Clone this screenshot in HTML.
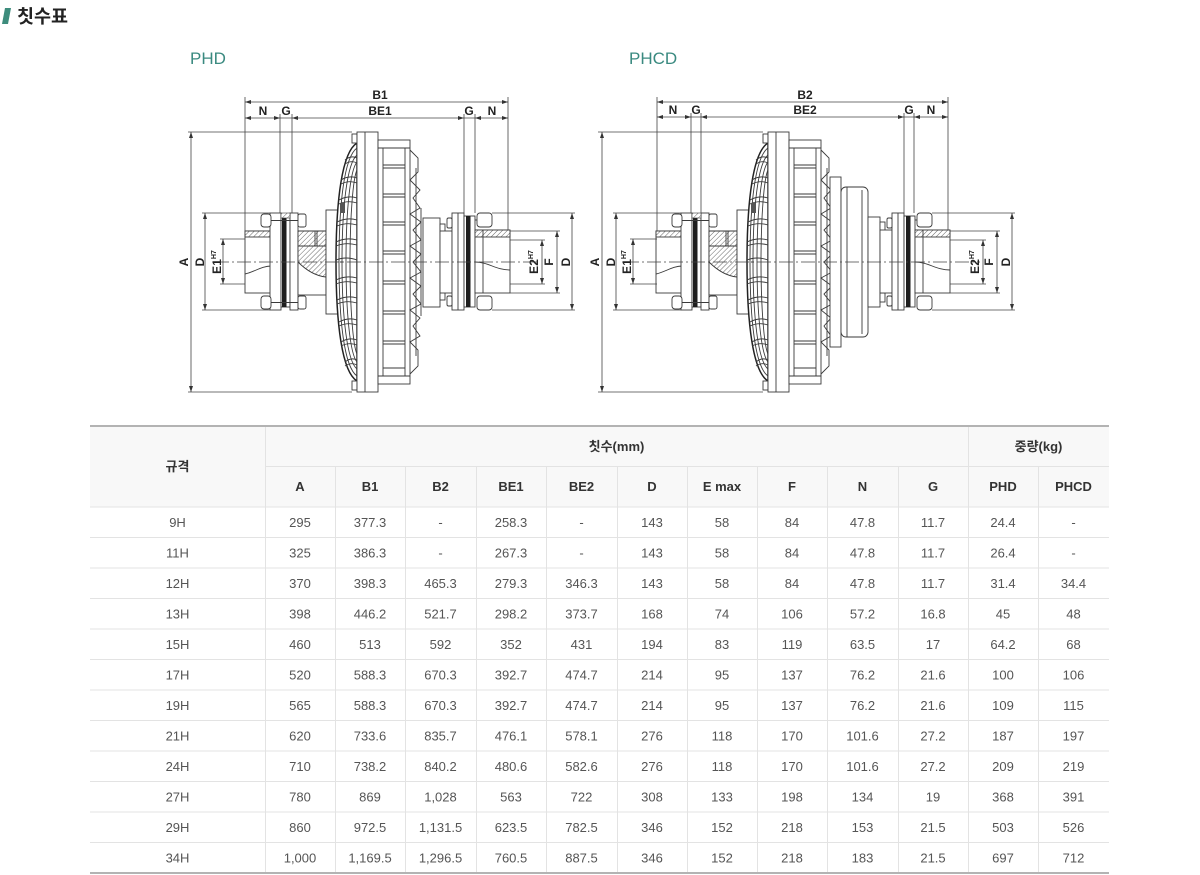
<!DOCTYPE html>
<html><head><meta charset="utf-8"><style>
html,body{margin:0;padding:0;background:#fff;}
svg{display:block;}
.d{fill:#fff;stroke:#3a3a3a;stroke-width:0.9;}
.n{fill:none;stroke:#3a3a3a;stroke-width:0.9;}
.dim{stroke:#444;stroke-width:0.8;fill:none;}
.lbl{font-family:"Liberation Sans Narrow","Liberation Sans",sans-serif;font-weight:bold;font-size:12px;fill:#222;text-anchor:middle;}
.t{font-family:"Liberation Sans","Noto Sans CJK KR",sans-serif;font-size:13px;fill:#555;text-anchor:middle;}
.th{font-family:"Liberation Sans","Noto Sans CJK KR",sans-serif;font-size:13px;fill:#333;font-weight:bold;text-anchor:middle;}
.tl{stroke:#e3e3e3;stroke-width:1;}
</style></head><body>
<svg width="1200" height="875" viewBox="0 0 1200 875" xmlns="http://www.w3.org/2000/svg">
<defs>
<pattern id="h" width="3.5" height="3.5" patternUnits="userSpaceOnUse" patternTransform="rotate(45)"><rect width="3.5" height="3.5" fill="#fff"/><line x1="0" y1="0" x2="0" y2="3.5" stroke="#555" stroke-width="0.9"/></pattern>
</defs>

<!-- Header -->
<polygon points="5,8 11,8 8,24 2,24" fill="#3d8c7c"/>
<text x="17" y="23" font-family="'Noto Sans CJK KR','Liberation Sans',sans-serif" font-size="18.5" font-weight="bold" fill="#222">칫수표</text>

<text x="190" y="64" font-family="'Liberation Sans',sans-serif" font-size="17" fill="#3a8a80">PHD</text>
<text x="629" y="64" font-family="'Liberation Sans',sans-serif" font-size="17" fill="#3a8a80">PHCD</text>

<!-- ================= PHD drawing ================= -->
<g id="leftcpl">
  <rect class="d" x="245" y="231" width="26" height="62"/>
  <rect x="245" y="231" width="26" height="6" fill="url(#h)" stroke="#3a3a3a" stroke-width="0.9"/>
  <path class="n" d="M245,274 C254,272 262,266 271,266"/>
  <rect class="d" x="270" y="213" width="11" height="97"/>
  <rect class="d" x="281" y="216" width="9" height="91"/>
  <rect x="282" y="216" width="4.5" height="91" fill="#1e1e1e"/>
  <rect class="d" x="290" y="213" width="8" height="97"/>
  <rect x="281" y="213" width="9" height="5" fill="url(#h)" stroke="#3a3a3a" stroke-width="0.6"/>
  <rect class="d" x="261" y="214" width="10" height="13" rx="3"/>
  <rect class="d" x="298" y="214" width="8" height="13" rx="2"/>
  <line class="n" x1="271" y1="220.5" x2="298" y2="220.5"/>
  <rect class="d" x="261" y="296" width="10" height="13" rx="3"/>
  <rect class="d" x="298" y="296" width="8" height="13" rx="2"/>
  <line class="n" x1="271" y1="302.5" x2="298" y2="302.5"/>
  <rect class="d" x="298" y="231" width="28" height="64"/>
  <path d="M298,231 L326,231 L326,277 C316,276 306,270 298,262 Z" fill="url(#h)" stroke="#3a3a3a" stroke-width="0.9"/>
  <line class="n" x1="298" y1="246" x2="326" y2="246"/>
  <line class="n" x1="315" y1="231" x2="315" y2="246"/>
  <line class="n" x1="317" y1="231" x2="317" y2="246"/>
  <rect class="d" x="326" y="210" width="12" height="104"/>
</g>

<g id="mainunit">
  <path d="M357,143 C342,152 336,200 336,262 C336,324 342,372 357,381 Z" fill="#fff" stroke="#222" stroke-width="1.5"/>
  <path class="n" stroke-width="1.1" d="M357,148 C344,157 339,205 339,262 C339,319 344,367 357,376"/>
  <path class="n" stroke-width="1.1" d="M357,155 C347,163 342,208 342,262 C342,316 347,361 357,369"/>
  <path class="n" stroke-width="1.1" d="M357,162 C350,170 346,212 346,262 C346,312 350,354 357,362"/>
  <path class="n" stroke-width="1" d="M357,170 C353,178 350,217 350,262 C350,307 353,346 357,354"/>
  <g class="n" stroke-width="1.2">
    <path d="M345,160 q6,-5 12,-2 M345,164 q6,-4 12,-1"/>
    <path d="M341,180 q8,-5 16,-2 M341,184 q8,-4 16,-1"/>
    <path d="M339,200 q9,-5 18,-2 M339,204 q9,-4 18,-1"/>
    <path d="M337,222 q10,-5 20,-2 M337,226 q10,-4 20,-1"/>
    <path d="M336,242 q10,-5 21,-2 M336,246 q10,-4 21,-1"/>
    <path d="M336,260 q10,-4 21,0 M340,262 l3,0"/>
    <path d="M336,280 q10,-5 21,-2 M336,284 q10,-4 21,-1"/>
    <path d="M337,300 q10,-5 20,-2 M337,304 q10,-4 20,-1"/>
    <path d="M339,322 q9,-5 18,-2 M339,326 q9,-4 18,-1"/>
    <path d="M341,342 q8,-5 16,-2 M341,346 q8,-4 16,-1"/>
    <path d="M345,362 q6,-5 12,-2 M345,366 q6,-4 12,-1"/>
  </g>
  <rect x="340" y="203" width="5" height="10" fill="#555"/>
  <rect class="d" x="352" y="134" width="5" height="9"/>
  <rect class="d" x="352" y="381" width="5" height="9"/>
  <rect class="d" x="357" y="132" width="21" height="260"/>
  <line class="n" x1="365" y1="132" x2="365" y2="392"/>
  <rect class="d" x="378" y="140" width="32" height="244"/>
  <line class="n" x1="383" y1="148" x2="383" y2="376"/>
  <line class="n" x1="405" y1="148" x2="405" y2="376"/>
  <line class="n" x1="378" y1="148" x2="410" y2="148"/>
  <line class="n" x1="378" y1="376" x2="410" y2="376"/>
  <g class="n" stroke-width="1.2">
    <path d="M383,165 H405 M383,168 H405"/>
    <path d="M383,194 H405 M383,197 H405"/>
    <path d="M383,222 H405 M383,225 H405"/>
    <path d="M383,251 H405 M383,254 H405"/>
    <path d="M383,281 H405 M383,284 H405"/>
    <path d="M383,311 H405 M383,314 H405"/>
    <path d="M383,341 H405 M383,344 H405"/>
    <path d="M383,368 H405"/>
  </g>
  <path class="n" stroke-width="1" d="M410,150 L418,158 L418,172 L410,180 L420,190 L413,198 L420,208 L410,214 L421,222 L413,230 L421,240 L410,246 L421,254 L413,262 L421,272 L410,278 L421,286 L413,294 L421,304 L410,310 L420,318 L413,326 L420,336 L410,342 L418,350 L418,366 L410,374"/>
  <line class="n" x1="416" y1="168" x2="416" y2="356"/>
</g>

<line class="n" x1="421" y1="208" x2="421" y2="316"/>
<rect class="d" x="423" y="218" width="17" height="89"/>
<rect class="d" x="440" y="224" width="5" height="8"/>
<rect class="d" x="440" y="292" width="5" height="8"/>
<rect class="d" x="440" y="231" width="12" height="62"/>

<g id="rightcpl">
  <rect class="d" x="452" y="213" width="12" height="97"/>
  <line class="n" x1="458" y1="213" x2="458" y2="310"/>
  <rect class="d" x="464" y="216" width="11" height="91"/>
  <rect x="466" y="216" width="4.5" height="91" fill="#1e1e1e"/>
  <rect class="d" x="447" y="218" width="5" height="10" rx="1.5"/>
  <rect class="d" x="447" y="296" width="5" height="10" rx="1.5"/>
  <rect class="d" x="475" y="230" width="35" height="63"/>
  <rect x="475" y="230" width="35" height="7" fill="url(#h)" stroke="#3a3a3a" stroke-width="0.9"/>
  <path class="n" d="M475,262 C488,262 496,270 510,270"/>
  <line class="n" x1="483" y1="230" x2="483" y2="293"/>
  <rect class="d" x="477" y="213" width="15" height="14" rx="3"/>
  <rect class="d" x="477" y="296" width="15" height="14" rx="3"/>
  <line class="n" x1="475" y1="220" x2="477" y2="220"/>
</g>

<g class="dim">
  <line x1="245" y1="102" x2="508" y2="102"/>
  <line x1="245" y1="118" x2="508" y2="118"/>
  <line x1="245" y1="97" x2="245" y2="231"/>
  <line x1="508" y1="97" x2="508" y2="230"/>
  <line x1="280" y1="114" x2="280" y2="213"/>
  <line x1="292" y1="114" x2="292" y2="213"/>
  <line x1="464" y1="114" x2="464" y2="213"/>
  <line x1="475" y1="114" x2="475" y2="213"/>
  <line x1="188" y1="132" x2="352" y2="132"/>
  <line x1="188" y1="392" x2="352" y2="392"/>
  <line x1="191" y1="132" x2="191" y2="392"/>
  <line x1="202" y1="213" x2="270" y2="213"/>
  <line x1="202" y1="310" x2="270" y2="310"/>
  <line x1="205" y1="213" x2="205" y2="310"/>
  <line x1="220" y1="239" x2="245" y2="239"/>
  <line x1="220" y1="284" x2="245" y2="284"/>
  <line x1="223" y1="239" x2="223" y2="284"/>
  <line x1="492" y1="213" x2="575" y2="213"/>
  <line x1="492" y1="310" x2="575" y2="310"/>
  <line x1="572" y1="213" x2="572" y2="310"/>
  <line x1="510" y1="231" x2="560" y2="231"/>
  <line x1="510" y1="293" x2="560" y2="293"/>
  <line x1="557" y1="231" x2="557" y2="293"/>
  <line x1="510" y1="240" x2="545" y2="240"/>
  <line x1="510" y1="284" x2="545" y2="284"/>
  <line x1="542" y1="240" x2="542" y2="284"/>
  <line x1="215" y1="262" x2="540" y2="262" stroke-dasharray="14,3,2,3" stroke-width="0.7"/>
</g>
<g fill="#333">
  <polygon points="245,102 251,100 251,104"/><polygon points="508,102 502,100 502,104"/>
  <polygon points="245,118 251,116 251,120"/><polygon points="280,118 274,116 274,120"/>
  <polygon points="292,118 298,116 298,120"/><polygon points="464,118 458,116 458,120"/>
  <polygon points="475,118 481,116 481,120"/><polygon points="508,118 502,116 502,120"/>
  <polygon points="191,132 189,138 193,138"/><polygon points="191,392 189,386 193,386"/>
  <polygon points="205,213 203,219 207,219"/><polygon points="205,310 203,304 207,304"/>
  <polygon points="223,239 221,245 225,245"/><polygon points="223,284 221,278 225,278"/>
  <polygon points="572,213 570,219 574,219"/><polygon points="572,310 570,304 574,304"/>
  <polygon points="557,231 555,237 559,237"/><polygon points="557,293 555,287 559,287"/>
  <polygon points="542,240 540,246 544,246"/><polygon points="542,284 540,278 544,278"/>
</g>
<text class="lbl" x="380" y="99">B1</text>
<text class="lbl" x="380" y="115">BE1</text>
<text class="lbl" x="263" y="115">N</text>
<text class="lbl" x="286" y="115">G</text>
<text class="lbl" x="469" y="115">G</text>
<text class="lbl" x="492" y="115">N</text>
<text class="lbl" transform="translate(188,262) rotate(-90)">A</text>
<text class="lbl" transform="translate(204,262) rotate(-90)">D</text>
<text class="lbl" transform="translate(221,262) rotate(-90)">E1<tspan font-size="7" dy="-5">H7</tspan></text>
<text class="lbl" transform="translate(538,262) rotate(-90)">E2<tspan font-size="7" dy="-5">H7</tspan></text>
<text class="lbl" transform="translate(553,262) rotate(-90)">F</text>
<text class="lbl" transform="translate(570,262) rotate(-90)">D</text>

<!-- ================= PHCD drawing ================= -->
<use href="#leftcpl" transform="translate(411,0)"/>
<use href="#mainunit" transform="translate(411,0)"/>
<rect class="d" x="830" y="177" width="11" height="170"/>
<rect class="d" x="841" y="187" width="27" height="150" rx="5"/>
<line class="n" x1="847" y1="187" x2="847" y2="337"/>
<line class="n" x1="862" y1="190" x2="862" y2="334"/>
<rect class="d" x="868" y="217" width="12" height="90"/>
<rect class="d" x="880" y="222" width="5" height="9"/>
<rect class="d" x="880" y="293" width="5" height="9"/>
<rect class="d" x="880" y="230" width="12" height="63"/>
<use href="#rightcpl" transform="translate(440,0)"/>

<g class="dim">
  <line x1="657" y1="102" x2="948" y2="102"/>
  <line x1="657" y1="117" x2="948" y2="117"/>
  <line x1="657" y1="97" x2="657" y2="231"/>
  <line x1="948" y1="97" x2="948" y2="230"/>
  <line x1="691" y1="113" x2="691" y2="213"/>
  <line x1="701" y1="113" x2="701" y2="213"/>
  <line x1="904" y1="113" x2="904" y2="213"/>
  <line x1="914" y1="113" x2="914" y2="213"/>
  <line x1="598" y1="132" x2="763" y2="132"/>
  <line x1="598" y1="392" x2="763" y2="392"/>
  <line x1="602" y1="132" x2="602" y2="392"/>
  <line x1="613" y1="213" x2="681" y2="213"/>
  <line x1="613" y1="310" x2="681" y2="310"/>
  <line x1="616" y1="213" x2="616" y2="310"/>
  <line x1="630" y1="239" x2="657" y2="239"/>
  <line x1="630" y1="284" x2="657" y2="284"/>
  <line x1="633" y1="239" x2="633" y2="284"/>
  <line x1="932" y1="213" x2="1015" y2="213"/>
  <line x1="932" y1="310" x2="1015" y2="310"/>
  <line x1="1012" y1="213" x2="1012" y2="310"/>
  <line x1="950" y1="231" x2="1000" y2="231"/>
  <line x1="950" y1="293" x2="1000" y2="293"/>
  <line x1="997" y1="231" x2="997" y2="293"/>
  <line x1="950" y1="240" x2="986" y2="240"/>
  <line x1="950" y1="284" x2="986" y2="284"/>
  <line x1="983" y1="240" x2="983" y2="284"/>
  <line x1="625" y1="262" x2="980" y2="262" stroke-dasharray="14,3,2,3" stroke-width="0.7"/>
</g>
<g fill="#333">
  <polygon points="657,102 663,100 663,104"/><polygon points="948,102 942,100 942,104"/>
  <polygon points="657,117 663,115 663,119"/><polygon points="691,117 685,115 685,119"/>
  <polygon points="701,117 707,115 707,119"/><polygon points="904,117 898,115 898,119"/>
  <polygon points="914,117 920,115 920,119"/><polygon points="948,117 942,115 942,119"/>
  <polygon points="602,132 600,138 604,138"/><polygon points="602,392 600,386 604,386"/>
  <polygon points="616,213 614,219 618,219"/><polygon points="616,310 614,304 618,304"/>
  <polygon points="633,239 631,245 635,245"/><polygon points="633,284 631,278 635,278"/>
  <polygon points="1012,213 1010,219 1014,219"/><polygon points="1012,310 1010,304 1014,304"/>
  <polygon points="997,231 995,237 999,237"/><polygon points="997,293 995,287 999,287"/>
  <polygon points="983,240 981,246 985,246"/><polygon points="983,284 981,278 985,278"/>
</g>
<text class="lbl" x="805" y="99">B2</text>
<text class="lbl" x="805" y="114">BE2</text>
<text class="lbl" x="673" y="114">N</text>
<text class="lbl" x="696" y="114">G</text>
<text class="lbl" x="909" y="114">G</text>
<text class="lbl" x="931" y="114">N</text>
<text class="lbl" transform="translate(599,262) rotate(-90)">A</text>
<text class="lbl" transform="translate(615,262) rotate(-90)">D</text>
<text class="lbl" transform="translate(631,262) rotate(-90)">E1<tspan font-size="7" dy="-5">H7</tspan></text>
<text class="lbl" transform="translate(979,262) rotate(-90)">E2<tspan font-size="7" dy="-5">H7</tspan></text>
<text class="lbl" transform="translate(993,262) rotate(-90)">F</text>
<text class="lbl" transform="translate(1010,262) rotate(-90)">D</text>

<!-- ================= TABLE ================= -->
<rect x="90" y="426" width="1019" height="81" fill="#f8f8f8"/>
<g class="tl" shape-rendering="crispEdges">
  <line x1="265.5" y1="427" x2="265.5" y2="872"/>
  <line x1="968.5" y1="427" x2="968.5" y2="872"/>
  <line x1="335.5" y1="466" x2="335.5" y2="872"/>
  <line x1="405.5" y1="466" x2="405.5" y2="872"/>
  <line x1="476.5" y1="466" x2="476.5" y2="872"/>
  <line x1="546.5" y1="466" x2="546.5" y2="872"/>
  <line x1="617.5" y1="466" x2="617.5" y2="872"/>
  <line x1="687.5" y1="466" x2="687.5" y2="872"/>
  <line x1="757.5" y1="466" x2="757.5" y2="872"/>
  <line x1="827.5" y1="466" x2="827.5" y2="872"/>
  <line x1="898.5" y1="466" x2="898.5" y2="872"/>
  <line x1="1038.5" y1="466" x2="1038.5" y2="872"/>
  <line x1="265" y1="466.5" x2="1109" y2="466.5"/>
  <line x1="90" y1="507" x2="1109" y2="507"/>
  <line x1="90" y1="537.5" x2="1109" y2="537.5"/>
  <line x1="90" y1="568" x2="1109" y2="568"/>
  <line x1="90" y1="598.5" x2="1109" y2="598.5"/>
  <line x1="90" y1="629" x2="1109" y2="629"/>
  <line x1="90" y1="659.5" x2="1109" y2="659.5"/>
  <line x1="90" y1="690" x2="1109" y2="690"/>
  <line x1="90" y1="720.5" x2="1109" y2="720.5"/>
  <line x1="90" y1="751" x2="1109" y2="751"/>
  <line x1="90" y1="781.5" x2="1109" y2="781.5"/>
  <line x1="90" y1="812" x2="1109" y2="812"/>
  <line x1="90" y1="842.5" x2="1109" y2="842.5"/>
</g>
<rect x="90" y="425" width="1019" height="2" fill="#b3b3b3"/>
<rect x="90" y="872" width="1019" height="2" fill="#b3b3b3"/>

<text class="th" x="177.5" y="471">규격</text>
<text class="th" x="616.5" y="451">칫수(mm)</text>
<text class="th" x="1038.5" y="451">중량(kg)</text>
<text class="th" x="300" y="491">A</text>
<text class="th" x="370" y="491">B1</text>
<text class="th" x="440.5" y="491">B2</text>
<text class="th" x="511" y="491">BE1</text>
<text class="th" x="581.5" y="491">BE2</text>
<text class="th" x="652" y="491">D</text>
<text class="th" x="722" y="491">E max</text>
<text class="th" x="792" y="491">F</text>
<text class="th" x="862.5" y="491">N</text>
<text class="th" x="933" y="491">G</text>
<text class="th" x="1003" y="491">PHD</text>
<text class="th" x="1073.5" y="491">PHCD</text>

<text class="t" y="527"><tspan x="177.5">9H</tspan><tspan x="300">295</tspan><tspan x="370">377.3</tspan><tspan x="440.5">-</tspan><tspan x="511">258.3</tspan><tspan x="581.5">-</tspan><tspan x="652">143</tspan><tspan x="722">58</tspan><tspan x="792">84</tspan><tspan x="862.5">47.8</tspan><tspan x="933">11.7</tspan><tspan x="1003">24.4</tspan><tspan x="1073.5">-</tspan></text>
<text class="t" y="557.5"><tspan x="177.5">11H</tspan><tspan x="300">325</tspan><tspan x="370">386.3</tspan><tspan x="440.5">-</tspan><tspan x="511">267.3</tspan><tspan x="581.5">-</tspan><tspan x="652">143</tspan><tspan x="722">58</tspan><tspan x="792">84</tspan><tspan x="862.5">47.8</tspan><tspan x="933">11.7</tspan><tspan x="1003">26.4</tspan><tspan x="1073.5">-</tspan></text>
<text class="t" y="588"><tspan x="177.5">12H</tspan><tspan x="300">370</tspan><tspan x="370">398.3</tspan><tspan x="440.5">465.3</tspan><tspan x="511">279.3</tspan><tspan x="581.5">346.3</tspan><tspan x="652">143</tspan><tspan x="722">58</tspan><tspan x="792">84</tspan><tspan x="862.5">47.8</tspan><tspan x="933">11.7</tspan><tspan x="1003">31.4</tspan><tspan x="1073.5">34.4</tspan></text>
<text class="t" y="618.5"><tspan x="177.5">13H</tspan><tspan x="300">398</tspan><tspan x="370">446.2</tspan><tspan x="440.5">521.7</tspan><tspan x="511">298.2</tspan><tspan x="581.5">373.7</tspan><tspan x="652">168</tspan><tspan x="722">74</tspan><tspan x="792">106</tspan><tspan x="862.5">57.2</tspan><tspan x="933">16.8</tspan><tspan x="1003">45</tspan><tspan x="1073.5">48</tspan></text>
<text class="t" y="649"><tspan x="177.5">15H</tspan><tspan x="300">460</tspan><tspan x="370">513</tspan><tspan x="440.5">592</tspan><tspan x="511">352</tspan><tspan x="581.5">431</tspan><tspan x="652">194</tspan><tspan x="722">83</tspan><tspan x="792">119</tspan><tspan x="862.5">63.5</tspan><tspan x="933">17</tspan><tspan x="1003">64.2</tspan><tspan x="1073.5">68</tspan></text>
<text class="t" y="679.5"><tspan x="177.5">17H</tspan><tspan x="300">520</tspan><tspan x="370">588.3</tspan><tspan x="440.5">670.3</tspan><tspan x="511">392.7</tspan><tspan x="581.5">474.7</tspan><tspan x="652">214</tspan><tspan x="722">95</tspan><tspan x="792">137</tspan><tspan x="862.5">76.2</tspan><tspan x="933">21.6</tspan><tspan x="1003">100</tspan><tspan x="1073.5">106</tspan></text>
<text class="t" y="710"><tspan x="177.5">19H</tspan><tspan x="300">565</tspan><tspan x="370">588.3</tspan><tspan x="440.5">670.3</tspan><tspan x="511">392.7</tspan><tspan x="581.5">474.7</tspan><tspan x="652">214</tspan><tspan x="722">95</tspan><tspan x="792">137</tspan><tspan x="862.5">76.2</tspan><tspan x="933">21.6</tspan><tspan x="1003">109</tspan><tspan x="1073.5">115</tspan></text>
<text class="t" y="740.5"><tspan x="177.5">21H</tspan><tspan x="300">620</tspan><tspan x="370">733.6</tspan><tspan x="440.5">835.7</tspan><tspan x="511">476.1</tspan><tspan x="581.5">578.1</tspan><tspan x="652">276</tspan><tspan x="722">118</tspan><tspan x="792">170</tspan><tspan x="862.5">101.6</tspan><tspan x="933">27.2</tspan><tspan x="1003">187</tspan><tspan x="1073.5">197</tspan></text>
<text class="t" y="771"><tspan x="177.5">24H</tspan><tspan x="300">710</tspan><tspan x="370">738.2</tspan><tspan x="440.5">840.2</tspan><tspan x="511">480.6</tspan><tspan x="581.5">582.6</tspan><tspan x="652">276</tspan><tspan x="722">118</tspan><tspan x="792">170</tspan><tspan x="862.5">101.6</tspan><tspan x="933">27.2</tspan><tspan x="1003">209</tspan><tspan x="1073.5">219</tspan></text>
<text class="t" y="801.5"><tspan x="177.5">27H</tspan><tspan x="300">780</tspan><tspan x="370">869</tspan><tspan x="440.5">1,028</tspan><tspan x="511">563</tspan><tspan x="581.5">722</tspan><tspan x="652">308</tspan><tspan x="722">133</tspan><tspan x="792">198</tspan><tspan x="862.5">134</tspan><tspan x="933">19</tspan><tspan x="1003">368</tspan><tspan x="1073.5">391</tspan></text>
<text class="t" y="832"><tspan x="177.5">29H</tspan><tspan x="300">860</tspan><tspan x="370">972.5</tspan><tspan x="440.5">1,131.5</tspan><tspan x="511">623.5</tspan><tspan x="581.5">782.5</tspan><tspan x="652">346</tspan><tspan x="722">152</tspan><tspan x="792">218</tspan><tspan x="862.5">153</tspan><tspan x="933">21.5</tspan><tspan x="1003">503</tspan><tspan x="1073.5">526</tspan></text>
<text class="t" y="862.5"><tspan x="177.5">34H</tspan><tspan x="300">1,000</tspan><tspan x="370">1,169.5</tspan><tspan x="440.5">1,296.5</tspan><tspan x="511">760.5</tspan><tspan x="581.5">887.5</tspan><tspan x="652">346</tspan><tspan x="722">152</tspan><tspan x="792">218</tspan><tspan x="862.5">183</tspan><tspan x="933">21.5</tspan><tspan x="1003">697</tspan><tspan x="1073.5">712</tspan></text>
</svg>
</body></html>
